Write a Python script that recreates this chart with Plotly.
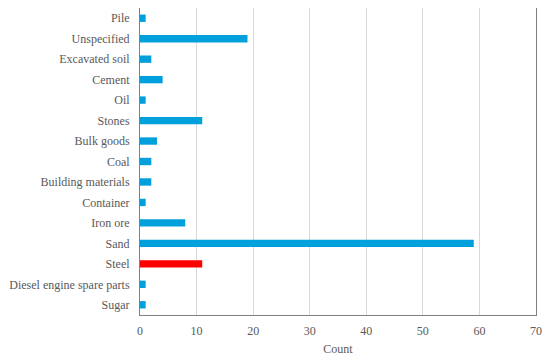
import plotly.graph_objects as go

categories = ["Pile", "Unspecified", "Excavated soil", "Cement", "Oil", "Stones",
              "Bulk goods", "Coal", "Building materials", "Container", "Iron ore",
              "Sand", "Steel", "Diesel engine spare parts", "Sugar"]
counts = [1, 19, 2, 4, 1, 11, 3, 2, 2, 1, 8, 59, 11, 1, 1]
highlight = "Steel"

colors = ["#FF0000" if c == highlight else "#00A0DC" for c in categories]

fig = go.Figure(go.Bar(
    x=counts, y=categories, orientation="h",
    marker=dict(color=colors, line=dict(width=0)),
    width=0.36,
))

font = dict(family="Liberation Serif, Times New Roman, serif", size=12, color="#595959")

# page body has an 8px margin, so the figure is sized/offset to compensate
fig.update_layout(
    width=542, height=353,
    margin=dict(l=132, r=14, t=0, b=46),
    plot_bgcolor="white", paper_bgcolor="white",
    font=font,
    showlegend=False,
)
fig.update_xaxes(
    range=[0, 70], dtick=10, tick0=0,
    showgrid=True, gridcolor="#D9D9D9", gridwidth=1,
    showline=True, linecolor="#7F7F7F", linewidth=1, mirror=True,
    ticks="", zeroline=False, automargin=False, ticklabelstandoff=5,
    title=dict(text="Count", font=font, standoff=7),
    tickfont=font,
)
fig.update_yaxes(
    categoryorder="array", categoryarray=categories[::-1],
    showline=True, linecolor="#7F7F7F", linewidth=1, mirror=True,
    showgrid=False, ticks="", ticklabelstandoff=7, automargin=False,
    tickfont=font,
)

fig.write_html("out.html")
